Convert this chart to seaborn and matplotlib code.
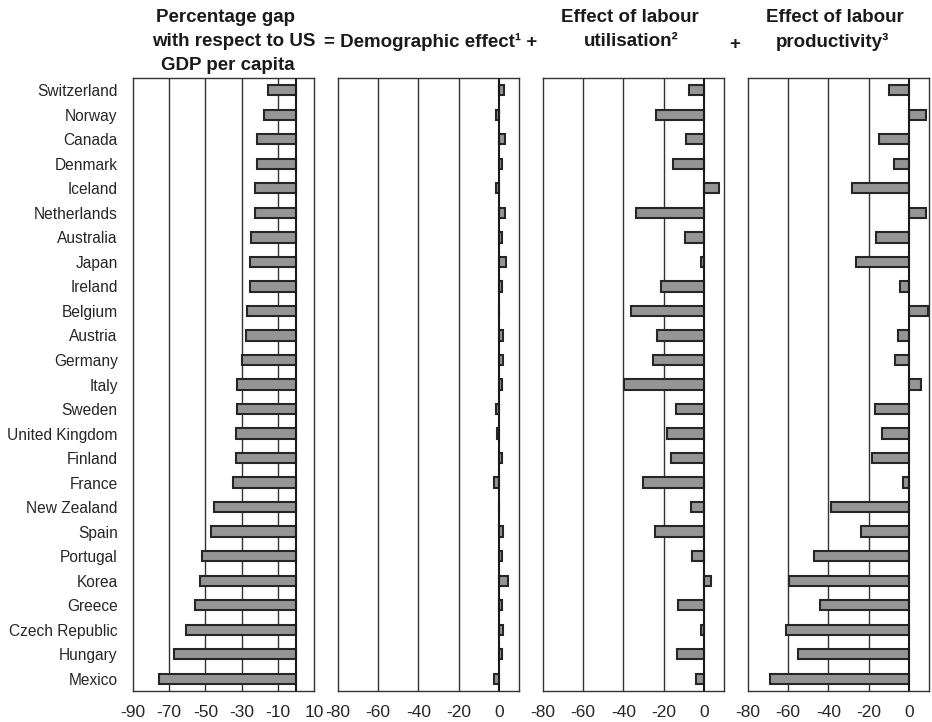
import pandas as pd
import matplotlib
matplotlib.use("Agg")
import matplotlib.pyplot as plt
import seaborn as sns

# =============================
# Data
# =============================
countries = ["Switzerland", "Norway", "Canada", "Denmark", "Iceland", "Netherlands",
             "Australia", "Japan", "Ireland", "Belgium", "Austria", "Germany", "Italy",
             "Sweden", "United Kingdom", "Finland", "France", "New Zealand", "Spain",
             "Portugal", "Korea", "Greece", "Czech Republic", "Hungary", "Mexico"]

gdp_gap = [-15.4, -17.6, -21.5, -21.5, -22.8, -22.8, -24.6, -25.4, -25.4, -27.2,
           -27.8, -29.8, -32.4, -32.4, -33.0, -33.0, -35.0, -45.4, -46.7, -51.9,
           -53.1, -55.6, -60.9, -67.2, -75.7]

demographic = [2.3, -1.5, 2.8, 1.5, -1.5, 2.8, 1.5, 3.7, 1.5, 0.0,
               2.2, 2.2, 1.5, -1.5, -1.0, 1.5, -2.2, 0.0, 2.2, 1.5,
               4.3, 1.5, 2.2, 1.5, -2.2]

utilisation = [-7.5, -23.8, -8.7, -15.2, 7.5, -33.8, -9.3, -1.5, -21.3, -36.3,
               -23.2, -25.2, -39.7, -13.8, -18.2, -16.3, -30.2, -6.3, -24.5, -5.8,
               3.3, -12.7, -1.5, -13.2, -3.8]

productivity = [-10.0, 8.4, -14.9, -7.4, -28.1, 8.4, -16.5, -26.4, -4.3, 9.6,
                -5.5, -6.8, 6.0, -16.7, -13.5, -18.3, -3.1, -38.5, -24.0, -47.1,
                -59.8, -44.1, -61.2, -55.0, -69.1]

df = pd.DataFrame({
    "country": countries,
    "gap": gdp_gap,
    "demo": demographic,
    "util": utilisation,
    "prod": productivity,
})

# =============================
# Style
# =============================
sns.set_style("white")
plt.rcParams["font.family"] = ["Liberation Sans", "DejaVu Sans"]

bar_face = "#959595"
bar_edge = "#262626"
line_col = "#333333"

fig = plt.figure(figsize=(9.32, 7.22), dpi=100)

W, H = 932, 722
ax_top, ax_bot = 78, 691
lefts = [133, 338, 543, 748]
ax_w = 181

panels = [
    ("gap", (-90, 10), [-90, -70, -50, -30, -10, 10]),
    ("demo", (-80, 10), [-80, -60, -40, -20, 0]),
    ("util", (-80, 10), [-80, -60, -40, -20, 0]),
    ("prod", (-80, 10), [-80, -60, -40, -20, 0]),
]

for i, (col, xlim, ticks) in enumerate(panels):
    ax = fig.add_axes([lefts[i] / W, 1 - ax_bot / H, ax_w / W, (ax_bot - ax_top) / H])
    sns.barplot(data=df, x=col, y="country", orient="h", ax=ax,
                color=bar_face, saturation=1, edgecolor=bar_edge,
                linewidth=1.5, width=0.42, zorder=3)
    ax.set_xlim(*xlim)
    ax.set_ylim(len(countries) - 0.5, -0.5)
    ax.set_xticks(ticks)
    ax.set_xticklabels([str(t) for t in ticks], fontsize=12.5)
    # vertical gridlines inside the panel
    for t in range(xlim[0] + 20, xlim[1], 20):
        if t != 0:
            ax.axvline(t, color=line_col, lw=1.0, zorder=1)
    ax.axvline(0, color="#1a1a1a", lw=1.5, zorder=4)
    ax.set_xlabel("")
    ax.set_ylabel("")
    ax.tick_params(axis="both", length=0)
    ax.tick_params(axis="x", pad=10)
    ax.tick_params(axis="y", pad=11)
    for s in ax.spines.values():
        s.set_color(line_col)
        s.set_linewidth(1.0)
    if i == 0:
        ax.set_yticks(range(len(countries)))
        ax.set_yticklabels(countries, fontsize=11.2)
    else:
        ax.set_yticks([])

# =============================
# Column headings
# =============================
def head(x, y, s, **kw):
    fig.text(x / W, 1 - y / H, s, ha="center", va="center",
             fontsize=13.5, fontweight="bold", color="#1a1a1a", **kw)

head(226, 17, "Percentage gap")
head(234, 42, "with respect to US")
head(228, 66, "GDP per capita")
head(431, 42, "= Demographic effect\u00b9 +")
head(630, 17, "Effect of labour")
head(631, 42, "utilisation\u00b2")
head(735, 45, "+")
head(835, 17, "Effect of labour")
head(832, 42, "productivity\u00b3")

plt.savefig("out.png", dpi=100)
